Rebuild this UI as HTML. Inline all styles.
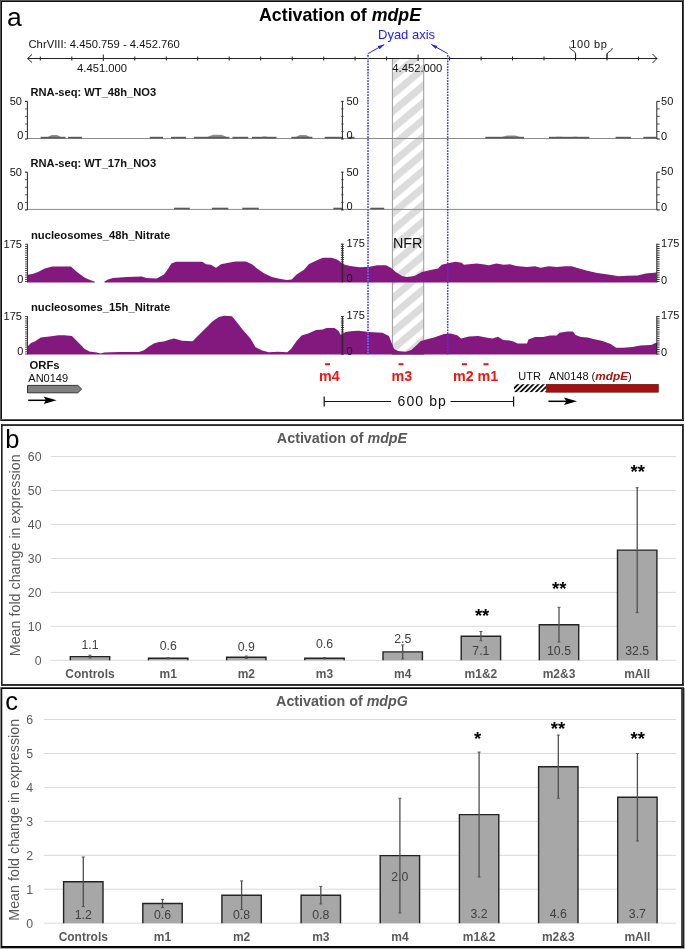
<!DOCTYPE html><html><head><meta charset="utf-8"><style>html,body{margin:0;padding:0;background:#fff;}svg{display:block;will-change:transform;}text{font-family:"Liberation Sans",sans-serif;}</style></head><body>
<svg width="685" height="949" viewBox="0 0 685 949">
<defs>
<pattern id="hatchG" patternUnits="userSpaceOnUse" width="13.0" height="13.0" patternTransform="rotate(50) translate(-3.8,0)"><rect width="13.0" height="13.0" fill="#fff"/><rect width="7.15" height="13.0" fill="#dcdcdc"/></pattern>
<pattern id="hatchK" patternUnits="userSpaceOnUse" width="3.6" height="3.6" patternTransform="rotate(45)"><rect width="3.6" height="3.6" fill="#fff"/><rect width="1.8" height="3.6" fill="#111"/></pattern>
<marker id="ah" markerWidth="7" markerHeight="6" refX="6.3" refY="3" orient="auto" markerUnits="userSpaceOnUse"><path d="M0,1.2 L6.5,3 L0,4.8 Z" fill="#2020ff"/></marker>
</defs>
<rect x="0" y="0" width="684" height="1" fill="#555"/>
<rect x="1" y="1" width="682" height="1" fill="#111"/>
<rect x="0" y="0" width="1" height="421" fill="#555"/>
<rect x="1" y="1" width="1" height="420" fill="#111"/>
<rect x="682" y="1" width="1" height="420" fill="#111"/>
<rect x="683" y="0" width="1" height="421" fill="#444"/>
<rect x="1" y="419" width="682" height="1" fill="#555"/>
<rect x="1" y="420" width="683" height="1" fill="#111"/>
<rect x="1" y="424" width="683" height="1" fill="#444"/>
<rect x="1" y="425" width="682" height="1" fill="#2a2a2a"/>
<rect x="1" y="424" width="1" height="262" fill="#222"/>
<rect x="2" y="426" width="1" height="258" fill="#777"/>
<rect x="682" y="424" width="1" height="262" fill="#222"/>
<rect x="683" y="424" width="1" height="262" fill="#444"/>
<rect x="1" y="684" width="683" height="1" fill="#2a2a2a"/>
<rect x="1" y="685" width="683" height="1" fill="#3a3a3a"/>
<rect x="0" y="687" width="684" height="1" fill="#555"/>
<rect x="1" y="688" width="683" height="1" fill="#000"/>
<rect x="0" y="687" width="1" height="262" fill="#888"/>
<rect x="1" y="688" width="1" height="260" fill="#111"/>
<rect x="2" y="689" width="1" height="257" fill="#bbb"/>
<rect x="681" y="689" width="1" height="257" fill="#4d4d4d"/>
<rect x="682" y="688" width="1" height="260" fill="#3a3a3a"/>
<rect x="683" y="688" width="1" height="260" fill="#222"/>
<rect x="684" y="688" width="1" height="261" fill="#a0a0a0"/>
<rect x="1" y="946" width="683" height="1" fill="#000"/>
<rect x="1" y="947" width="683" height="1" fill="#111"/>
<rect x="0" y="948" width="685" height="1" fill="#aaa"/>
<text x="6.9" y="26.4" font-size="26.5">a</text>
<text x="259" y="21" font-size="17.8" font-weight="bold">Activation of <tspan font-style="italic">mdpE</tspan></text>
<text x="28.5" y="47.8" font-size="11.25" fill="#111">ChrVIII: 4.450.759 - 4.452.760</text>
<rect x="392.4" y="58.5" width="31.3" height="296" fill="url(#hatchG)" stroke="#999" stroke-width="1"/>
<line x1="27.5" y1="58.5" x2="657" y2="58.5" stroke="#222" stroke-width="1"/>
<path d="M32,54.5 L27.6,58.5 L32,62.5" fill="none" stroke="#222" stroke-width="1"/>
<path d="M652.5,54 L657,58.5 L652.5,63" fill="none" stroke="#222" stroke-width="1"/>
<line x1="40.3" y1="56.5" x2="40.3" y2="60.5" stroke="#222" stroke-width="1"/>
<line x1="71.8" y1="56.5" x2="71.8" y2="60.5" stroke="#222" stroke-width="1"/>
<line x1="103.3" y1="54.5" x2="103.3" y2="61" stroke="#222" stroke-width="1"/>
<line x1="134.8" y1="56.5" x2="134.8" y2="60.5" stroke="#222" stroke-width="1"/>
<line x1="166.3" y1="56.5" x2="166.3" y2="60.5" stroke="#222" stroke-width="1"/>
<line x1="197.7" y1="56.5" x2="197.7" y2="60.5" stroke="#222" stroke-width="1"/>
<line x1="229.2" y1="56.5" x2="229.2" y2="60.5" stroke="#222" stroke-width="1"/>
<line x1="260.7" y1="56.5" x2="260.7" y2="60.5" stroke="#222" stroke-width="1"/>
<line x1="292.2" y1="56.5" x2="292.2" y2="60.5" stroke="#222" stroke-width="1"/>
<line x1="323.7" y1="56.5" x2="323.7" y2="60.5" stroke="#222" stroke-width="1"/>
<line x1="355.1" y1="56.5" x2="355.1" y2="60.5" stroke="#222" stroke-width="1"/>
<line x1="386.6" y1="56.5" x2="386.6" y2="60.5" stroke="#222" stroke-width="1"/>
<line x1="418.1" y1="54.5" x2="418.1" y2="61" stroke="#222" stroke-width="1"/>
<line x1="449.6" y1="56.5" x2="449.6" y2="60.5" stroke="#222" stroke-width="1"/>
<line x1="481.1" y1="56.5" x2="481.1" y2="60.5" stroke="#222" stroke-width="1"/>
<line x1="512.5" y1="56.5" x2="512.5" y2="60.5" stroke="#222" stroke-width="1"/>
<line x1="544.0" y1="56.5" x2="544.0" y2="60.5" stroke="#222" stroke-width="1"/>
<line x1="575.5" y1="53.5" x2="575.5" y2="60.5" stroke="#222" stroke-width="1"/>
<line x1="607.0" y1="53.5" x2="607.0" y2="60.5" stroke="#222" stroke-width="1"/>
<line x1="638.5" y1="56.5" x2="638.5" y2="60.5" stroke="#222" stroke-width="1"/>
<text x="77" y="72" font-size="11.25" fill="#111">4.451.000</text>
<text x="392.3" y="72.3" font-size="11.25" fill="#111">4.452.000</text>
<path d="M575.6,58 L575.6,54 Q575.6,51.5 572,50 Q569.5,49 569.5,46.5" fill="none" stroke="#222" stroke-width="0.9"/>
<path d="M607,58 L607,54.5 Q607,52.5 610.3,51 Q612.3,50 612.3,48" fill="none" stroke="#222" stroke-width="0.9"/>
<text x="570.3" y="48.2" font-size="11" letter-spacing="0.6" fill="#111">100 bp</text>
<text x="378" y="39.3" font-size="13" fill="#1a1aff">Dyad axis</text>
<line x1="367.7" y1="53.8" x2="384.2" y2="44.5" stroke="#2020ff" stroke-width="1" marker-end="url(#ah)"/>
<line x1="447.7" y1="53.6" x2="431.2" y2="44.4" stroke="#2020ff" stroke-width="1" marker-end="url(#ah)"/>
<text x="30.5" y="95.8" font-size="11.15" font-weight="bold" fill="#111">RNA-seq: WT_48h_NO3</text>
<line x1="27.4" y1="138.5" x2="657" y2="138.5" stroke="#8a8a8a" stroke-width="1"/>
<text x="30.5" y="167.2" font-size="11.15" font-weight="bold" fill="#111">RNA-seq: WT_17h_NO3</text>
<line x1="27.4" y1="209.4" x2="657" y2="209.4" stroke="#8a8a8a" stroke-width="1"/>
<text x="30.9" y="238.9" font-size="11.25" font-weight="bold" fill="#111">nucleosomes_48h_Nitrate</text>
<text x="30.9" y="311.1" font-size="11.25" font-weight="bold" fill="#111">nucleosomes_15h_Nitrate</text>
<path d="M27.7,282.5 L27.7,274.8 L32.4,274.1 L38.0,272.0 L44.8,268.4 L52.3,266.4 L70.9,266.4 L77.0,272.1 L84.5,277.6 L90.0,280.0 L94.4,281.6 L95.0,282.0 L95.0,282.5 Z" fill="#83187f"/>
<path d="M104.4,282.5 L104.4,281.6 L108.0,279.5 L113.0,277.9 L126.7,277.1 L141.6,276.4 L146.5,277.9 L156.5,278.4 L164.0,274.6 L168.0,269.0 L171.4,263.5 L176.3,261.7 L202.3,261.7 L206.0,264.2 L211.0,264.7 L216.0,267.7 L221.0,264.2 L228.4,262.7 L235.8,261.5 L245.8,261.5 L252.0,264.2 L257.0,268.4 L264.4,273.4 L271.8,277.1 L279.3,278.8 L286.7,280.1 L291.7,279.6 L296.6,274.6 L304.0,269.7 L309.0,264.0 L316.5,260.5 L322.7,257.8 L331.4,257.8 L337.6,259.7 L342.4,263.5 L345.0,264.7 L350.0,266.0 L359.9,267.2 L369.8,266.7 L377.2,265.2 L385.9,265.2 L390.9,267.7 L395.8,272.1 L402.0,275.9 L407.0,277.1 L414.4,275.9 L421.9,272.1 L431.8,269.7 L438.0,268.4 L441.7,264.7 L449.2,263.0 L455.4,261.7 L461.6,262.7 L464.0,264.7 L476.5,263.5 L482.7,264.2 L488.9,265.2 L496.3,263.5 L503.8,264.7 L510.0,264.2 L516.2,266.0 L527.0,266.9 L535.1,266.3 L540.5,267.7 L548.6,266.3 L556.7,266.9 L564.8,266.3 L571.6,266.3 L578.3,268.2 L586.4,270.4 L597.2,273.1 L608.0,274.4 L618.8,276.3 L626.9,275.8 L637.7,275.5 L645.8,273.6 L656.6,272.5 L656.6,282.5 Z" fill="#83187f"/>
<path d="M27.5,354.6 L27.5,346.6 L31.0,342.9 L34.7,341.4 L40.9,337.6 L49.6,336.4 L58.3,335.2 L64.5,335.2 L72.0,335.9 L74.4,338.4 L79.4,343.4 L84.4,348.8 L89.3,351.5 L96.8,352.5 L100.5,353.5 L104.2,352.5 L119.1,352.0 L139.0,352.0 L143.9,350.3 L148.9,346.6 L153.8,343.4 L158.8,342.1 L163.8,341.6 L170.0,339.6 L174.2,338.6 L182.1,340.7 L192.6,341.2 L197.8,336.0 L203.1,330.7 L208.4,325.5 L212.3,321.5 L218.9,317.1 L224.1,315.7 L232.0,316.3 L237.3,322.8 L242.5,329.4 L246.5,334.1 L250.4,338.6 L255.6,347.3 L262.2,350.4 L268.8,352.3 L278.0,351.7 L287.2,352.3 L291.1,349.1 L296.4,341.2 L301.6,335.5 L308.2,333.4 L316.1,329.9 L322.6,329.4 L326.6,328.1 L334.5,328.1 L338.4,330.7 L341.0,335.2 L342.4,334.0 L345.5,332.0 L350.8,331.3 L358.6,330.7 L369.2,332.0 L382.3,332.8 L388.9,336.0 L391.5,342.5 L394.1,349.1 L398.1,351.0 L405.9,351.7 L411.2,349.9 L416.5,345.2 L420.4,341.2 L424.3,339.9 L434.8,337.3 L444.0,334.1 L450.6,333.4 L457.2,335.2 L461.1,338.6 L469.0,336.5 L478.2,336.0 L487.4,337.8 L492.6,338.6 L497.9,336.8 L503.2,339.9 L509.5,340.4 L513.5,341.4 L517.6,343.6 L527.0,343.6 L528.4,339.6 L535.1,336.9 L543.2,336.9 L550.0,335.5 L556.7,335.5 L559.4,332.8 L567.5,331.5 L572.9,331.5 L575.6,335.0 L581.0,336.9 L587.8,337.4 L593.2,339.0 L602.6,340.9 L610.7,344.1 L616.1,347.7 L622.9,347.7 L632.3,346.9 L640.4,345.5 L651.2,345.0 L655.3,343.1 L657.0,343.1 L657.0,354.6 Z" fill="#83187f"/>
<path d="M46.0,138.0 L49.2,136.2 L51.6,135.0 L57.2,135.0 L59.6,136.2 L62.0,138.0 Z" fill="#8e8e8e"/>
<rect x="40.6" y="136.8" width="24.9" height="1.7" fill="#5a5a5a"/>
<rect x="68" y="136.8" width="14.1" height="1.7" fill="#5a5a5a"/>
<rect x="149.8" y="136.8" width="13.2" height="1.7" fill="#5a5a5a"/>
<rect x="171" y="136.8" width="15.0" height="1.7" fill="#5a5a5a"/>
<path d="M205.0,138.0 L209.6,136.0 L213.1,134.7 L221.1,134.7 L224.6,136.0 L228.0,138.0 Z" fill="#8e8e8e"/>
<rect x="194" y="136.8" width="35.3" height="1.7" fill="#5a5a5a"/>
<rect x="232.4" y="136.8" width="15.8" height="1.7" fill="#5a5a5a"/>
<path d="M260.0,138.0 L261.8,137.0 L263.1,136.4 L266.3,136.4 L267.6,137.0 L269.0,138.0 Z" fill="#8e8e8e"/>
<rect x="252" y="136.8" width="24.5" height="1.7" fill="#5a5a5a"/>
<path d="M294.0,138.0 L297.4,136.2 L299.9,135.0 L305.9,135.0 L308.4,136.2 L311.0,138.0 Z" fill="#8e8e8e"/>
<rect x="291.4" y="136.8" width="21.0" height="1.7" fill="#5a5a5a"/>
<rect x="324.7" y="136.8" width="18.3" height="1.7" fill="#5a5a5a"/>
<rect x="348.4" y="136.8" width="6.1" height="1.7" fill="#5a5a5a"/>
<path d="M499.0,138.0 L503.6,136.4 L507.1,135.4 L515.1,135.4 L518.5,136.4 L522.0,138.0 Z" fill="#8e8e8e"/>
<rect x="485.3" y="136.8" width="38.7" height="1.7" fill="#5a5a5a"/>
<path d="M551.8,138.0 L554.6,137.3 L556.7,136.8 L561.5,136.8 L563.6,137.3 L565.7,138.0 Z" fill="#8e8e8e"/>
<path d="M570.0,138.0 L571.9,137.3 L573.4,136.8 L576.7,136.8 L578.2,137.3 L579.6,138.0 Z" fill="#8e8e8e"/>
<rect x="549" y="136.8" width="40.3" height="1.7" fill="#5a5a5a"/>
<rect x="615.6" y="136.8" width="15.3" height="1.7" fill="#5a5a5a"/>
<rect x="643.4" y="136.8" width="13.0" height="1.7" fill="#5a5a5a"/>
<rect x="174" y="207.7" width="15.8" height="1.7" fill="#5a5a5a"/>
<rect x="211.9" y="207.7" width="16.4" height="1.7" fill="#5a5a5a"/>
<rect x="242.3" y="207.7" width="16.5" height="1.7" fill="#5a5a5a"/>
<rect x="333.4" y="207.7" width="8.8" height="1.7" fill="#5a5a5a"/>
<rect x="370.2" y="207.7" width="14.0" height="1.7" fill="#5a5a5a"/>
<line x1="27.4" y1="101.4" x2="27.4" y2="139.0" stroke="#222" stroke-width="1"/>

<line x1="25" y1="101.4" x2="27.4" y2="101.4" stroke="#333" stroke-width="1.2"/>
<line x1="25" y1="108.9" x2="27.4" y2="108.9" stroke="#333" stroke-width="0.8"/>
<line x1="25" y1="116.4" x2="27.4" y2="116.4" stroke="#333" stroke-width="0.8"/>
<line x1="25" y1="124.0" x2="27.4" y2="124.0" stroke="#333" stroke-width="0.8"/>
<line x1="25" y1="131.5" x2="27.4" y2="131.5" stroke="#333" stroke-width="0.8"/>
<line x1="25" y1="139.0" x2="27.4" y2="139.0" stroke="#333" stroke-width="1.2"/>
<line x1="342.4" y1="101.4" x2="342.4" y2="139.0" stroke="#222" stroke-width="1"/>
<line x1="656.8" y1="101.4" x2="656.8" y2="139.0" stroke="#222" stroke-width="1"/>
<line x1="341.2" y1="101.4" x2="343.6" y2="101.4" stroke="#333" stroke-width="1.2"/>
<line x1="656.8" y1="101.4" x2="659.8" y2="101.4" stroke="#333" stroke-width="1.2"/>
<line x1="341.2" y1="108.9" x2="343.6" y2="108.9" stroke="#333" stroke-width="0.8"/>
<line x1="656.8" y1="108.9" x2="659.8" y2="108.9" stroke="#333" stroke-width="0.8"/>
<line x1="341.2" y1="116.4" x2="343.6" y2="116.4" stroke="#333" stroke-width="0.8"/>
<line x1="656.8" y1="116.4" x2="659.8" y2="116.4" stroke="#333" stroke-width="0.8"/>
<line x1="341.2" y1="124.0" x2="343.6" y2="124.0" stroke="#333" stroke-width="0.8"/>
<line x1="656.8" y1="124.0" x2="659.8" y2="124.0" stroke="#333" stroke-width="0.8"/>
<line x1="341.2" y1="131.5" x2="343.6" y2="131.5" stroke="#333" stroke-width="0.8"/>
<line x1="656.8" y1="131.5" x2="659.8" y2="131.5" stroke="#333" stroke-width="0.8"/>
<line x1="341.2" y1="139.0" x2="343.6" y2="139.0" stroke="#333" stroke-width="1.2"/>
<line x1="656.8" y1="139.0" x2="659.8" y2="139.0" stroke="#333" stroke-width="1.2"/>
<text x="21.9" y="105.30000000000001" font-size="11" text-anchor="end" fill="#111">50</text>
<text x="23.4" y="139.3" font-size="11" text-anchor="end" fill="#111">0</text>
<text x="346.4" y="104.7" font-size="11" fill="#111">50</text>
<text x="346.4" y="138.9" font-size="11" fill="#111">0</text>
<text x="661.1" y="104.60000000000001" font-size="11" fill="#111">50</text>
<text x="661.1" y="140.0" font-size="11" fill="#111">0</text>
<line x1="27.4" y1="172.2" x2="27.4" y2="209.9" stroke="#222" stroke-width="1"/>

<line x1="25" y1="172.2" x2="27.4" y2="172.2" stroke="#333" stroke-width="1.2"/>
<line x1="25" y1="179.7" x2="27.4" y2="179.7" stroke="#333" stroke-width="0.8"/>
<line x1="25" y1="187.3" x2="27.4" y2="187.3" stroke="#333" stroke-width="0.8"/>
<line x1="25" y1="194.8" x2="27.4" y2="194.8" stroke="#333" stroke-width="0.8"/>
<line x1="25" y1="202.4" x2="27.4" y2="202.4" stroke="#333" stroke-width="0.8"/>
<line x1="25" y1="209.9" x2="27.4" y2="209.9" stroke="#333" stroke-width="1.2"/>
<line x1="342.4" y1="172.2" x2="342.4" y2="209.9" stroke="#222" stroke-width="1"/>
<line x1="656.8" y1="172.2" x2="656.8" y2="209.9" stroke="#222" stroke-width="1"/>
<line x1="341.2" y1="172.2" x2="343.6" y2="172.2" stroke="#333" stroke-width="1.2"/>
<line x1="656.8" y1="172.2" x2="659.8" y2="172.2" stroke="#333" stroke-width="1.2"/>
<line x1="341.2" y1="179.7" x2="343.6" y2="179.7" stroke="#333" stroke-width="0.8"/>
<line x1="656.8" y1="179.7" x2="659.8" y2="179.7" stroke="#333" stroke-width="0.8"/>
<line x1="341.2" y1="187.3" x2="343.6" y2="187.3" stroke="#333" stroke-width="0.8"/>
<line x1="656.8" y1="187.3" x2="659.8" y2="187.3" stroke="#333" stroke-width="0.8"/>
<line x1="341.2" y1="194.8" x2="343.6" y2="194.8" stroke="#333" stroke-width="0.8"/>
<line x1="656.8" y1="194.8" x2="659.8" y2="194.8" stroke="#333" stroke-width="0.8"/>
<line x1="341.2" y1="202.4" x2="343.6" y2="202.4" stroke="#333" stroke-width="0.8"/>
<line x1="656.8" y1="202.4" x2="659.8" y2="202.4" stroke="#333" stroke-width="0.8"/>
<line x1="341.2" y1="209.9" x2="343.6" y2="209.9" stroke="#333" stroke-width="1.2"/>
<line x1="656.8" y1="209.9" x2="659.8" y2="209.9" stroke="#333" stroke-width="1.2"/>
<text x="21.9" y="176.1" font-size="11" text-anchor="end" fill="#111">50</text>
<text x="23.4" y="210.20000000000002" font-size="11" text-anchor="end" fill="#111">0</text>
<text x="346.4" y="175.5" font-size="11" fill="#111">50</text>
<text x="346.4" y="209.8" font-size="11" fill="#111">0</text>
<text x="661.1" y="175.39999999999998" font-size="11" fill="#111">50</text>
<text x="661.1" y="210.9" font-size="11" fill="#111">0</text>
<line x1="27.4" y1="243.7" x2="27.4" y2="282.5" stroke="#222" stroke-width="1"/>
<line x1="26.1" y1="243.7" x2="26.1" y2="282.5" stroke="#555" stroke-width="2.1" stroke-dasharray="1 1.2"/>
<line x1="342.4" y1="243.7" x2="342.4" y2="282.5" stroke="#222" stroke-width="1"/>
<line x1="656.8" y1="243.7" x2="656.8" y2="282.5" stroke="#222" stroke-width="1"/>
<line x1="342.4" y1="243.7" x2="342.4" y2="282.5" stroke="#333" stroke-width="3" stroke-dasharray="1 1.2"/>
<line x1="658.3" y1="243.7" x2="658.3" y2="282.5" stroke="#333" stroke-width="2.6" stroke-dasharray="1 1.2"/>
<text x="21.9" y="247.6" font-size="11" text-anchor="end" fill="#111">175</text>
<text x="23.4" y="282.8" font-size="11" text-anchor="end" fill="#111">0</text>
<text x="346.4" y="247.0" font-size="11" fill="#111">175</text>
<text x="346.4" y="282.4" font-size="11" fill="#111">0</text>
<text x="661.1" y="246.89999999999998" font-size="11" fill="#111">175</text>
<text x="661.1" y="283.5" font-size="11" fill="#111">0</text>
<line x1="27.4" y1="316.0" x2="27.4" y2="354.6" stroke="#222" stroke-width="1"/>
<line x1="26.1" y1="316.0" x2="26.1" y2="354.6" stroke="#555" stroke-width="2.1" stroke-dasharray="1 1.2"/>
<line x1="342.4" y1="316.0" x2="342.4" y2="354.6" stroke="#222" stroke-width="1"/>
<line x1="656.8" y1="316.0" x2="656.8" y2="354.6" stroke="#222" stroke-width="1"/>
<line x1="342.4" y1="316.0" x2="342.4" y2="354.6" stroke="#333" stroke-width="3" stroke-dasharray="1 1.2"/>
<line x1="658.3" y1="316.0" x2="658.3" y2="354.6" stroke="#333" stroke-width="2.6" stroke-dasharray="1 1.2"/>
<text x="21.9" y="319.9" font-size="11" text-anchor="end" fill="#111">175</text>
<text x="23.4" y="354.90000000000003" font-size="11" text-anchor="end" fill="#111">0</text>
<text x="346.4" y="319.3" font-size="11" fill="#111">175</text>
<text x="346.4" y="354.5" font-size="11" fill="#111">0</text>
<text x="661.1" y="319.2" font-size="11" fill="#111">175</text>
<text x="661.1" y="355.6" font-size="11" fill="#111">0</text>
<text x="393" y="247.8" font-size="14.3" fill="#111">NFR</text>
<line x1="368" y1="55" x2="368" y2="355" stroke="#6262ff" stroke-width="2" stroke-dasharray="1.7 1.1"/>
<line x1="447.7" y1="55" x2="447.7" y2="355" stroke="#3a3aff" stroke-width="1.5" stroke-dasharray="1.7 1.1"/>
<text x="29.5" y="369.1" font-size="11.3" font-weight="bold" fill="#111">ORFs</text>
<text x="28.3" y="382.3" font-size="11" fill="#111">AN0149</text>
<path d="M27.5,385.4 L77.8,385.4 L81.6,389.1 L77.8,392.8 L27.5,392.8 Z" fill="#808080" stroke="#333" stroke-width="1"/>
<line x1="28.2" y1="400.3" x2="50.6" y2="400.3" stroke="#000" stroke-width="1.5"/>
<path d="M56.6,400.3 L43.6,396.5 L46.0,400.3 L43.6,404.1 Z" fill="#000"/>
<line x1="548.4" y1="401.3" x2="571" y2="401.3" stroke="#000" stroke-width="1.5"/>
<path d="M577,401.3 L564,397.5 L566.4,401.3 L564,405.1 Z" fill="#000"/>
<rect x="325" y="363.2" width="5" height="2" fill="#ff1010"/>
<text x="319.1" y="381.2" font-size="14.3" font-weight="bold" fill="#ff1010">m4</text>
<rect x="398.5" y="363.2" width="5" height="2" fill="#ff1010"/>
<text x="391.6" y="381.2" font-size="14.3" font-weight="bold" fill="#ff1010">m3</text>
<rect x="462" y="363.2" width="5" height="2" fill="#ff1010"/>
<text x="453" y="381.2" font-size="14.3" font-weight="bold" fill="#ff1010">m2</text>
<rect x="483.5" y="363.2" width="5" height="2" fill="#ff1010"/>
<text x="477.5" y="381.2" font-size="14.3" font-weight="bold" fill="#ff1010">m1</text>
<line x1="324.2" y1="401.5" x2="391" y2="401.5" stroke="#111" stroke-width="1"/>
<line x1="450.5" y1="401.5" x2="513.6" y2="401.5" stroke="#111" stroke-width="1"/>
<line x1="324.2" y1="396.5" x2="324.2" y2="406.5" stroke="#111" stroke-width="1.2"/>
<line x1="513.6" y1="396.5" x2="513.6" y2="406.5" stroke="#111" stroke-width="1.2"/>
<text x="397.5" y="405.8" font-size="14" letter-spacing="1.1" fill="#111">600 bp</text>
<text x="518.3" y="380" font-size="11" fill="#111">UTR</text>
<text x="548.8" y="380" font-size="11" fill="#111">AN0148 (<tspan font-weight="bold" font-style="italic" font-size="11.8" fill="#b01010">mdpE</tspan>)</text>
<rect x="514" y="384.2" width="32.4" height="7.9" fill="url(#hatchK)"/>
<rect x="546.4" y="384.3" width="112" height="7.9" fill="#a50f0f" stroke="#5a0a0a" stroke-width="0.6"/>
<text x="5.2" y="448" font-size="25.5">b</text>
<text x="342" y="443.1" font-size="14.3" font-weight="bold" fill="#595959" text-anchor="middle">Activation of <tspan font-style="italic">mdpE</tspan></text>
<line x1="50.8" y1="660.3" x2="676" y2="660.3" stroke="#d9d9d9" stroke-width="1"/>
<text x="41.5" y="664.6" font-size="12.3" fill="#595959" text-anchor="end">0</text>
<line x1="50.8" y1="626.3" x2="676" y2="626.3" stroke="#d9d9d9" stroke-width="1"/>
<text x="41.5" y="630.6" font-size="12.3" fill="#595959" text-anchor="end">10</text>
<line x1="50.8" y1="592.4" x2="676" y2="592.4" stroke="#d9d9d9" stroke-width="1"/>
<text x="41.5" y="596.7" font-size="12.3" fill="#595959" text-anchor="end">20</text>
<line x1="50.8" y1="558.4" x2="676" y2="558.4" stroke="#d9d9d9" stroke-width="1"/>
<text x="41.5" y="562.7" font-size="12.3" fill="#595959" text-anchor="end">30</text>
<line x1="50.8" y1="524.5" x2="676" y2="524.5" stroke="#d9d9d9" stroke-width="1"/>
<text x="41.5" y="528.8" font-size="12.3" fill="#595959" text-anchor="end">40</text>
<line x1="50.8" y1="490.5" x2="676" y2="490.5" stroke="#d9d9d9" stroke-width="1"/>
<text x="41.5" y="494.8" font-size="12.3" fill="#595959" text-anchor="end">50</text>
<line x1="50.8" y1="456.6" x2="676" y2="456.6" stroke="#d9d9d9" stroke-width="1"/>
<text x="41.5" y="460.9" font-size="12.3" fill="#595959" text-anchor="end">60</text>
<text transform="translate(19.5,555.3) rotate(-90)" font-size="14.3" fill="#595959" text-anchor="middle">Mean fold change in expression</text>
<rect x="70.3" y="656.6" width="39.4" height="3.7" fill="#a7a7a7"/>
<path d="M70.3,660.3 V656.6 H109.7 V660.3" fill="none" stroke="#222" stroke-width="1.4"/>
<line x1="90.0" y1="655.2" x2="90.0" y2="657.9" stroke="#4f4f4f" stroke-width="1.3"/>
<line x1="88.5" y1="655.2" x2="91.5" y2="655.2" stroke="#555" stroke-width="1"/>
<line x1="88.5" y1="657.9" x2="91.5" y2="657.9" stroke="#555" stroke-width="1"/>
<text x="90.0" y="678.2" font-size="12" font-weight="bold" fill="#595959" text-anchor="middle">Controls</text>
<rect x="148.5" y="658.3" width="39.4" height="2.0" fill="#a7a7a7"/>
<path d="M148.5,660.3 V658.3 H187.9 V660.3" fill="none" stroke="#222" stroke-width="1.4"/>
<line x1="168.2" y1="657.8" x2="168.2" y2="658.8" stroke="#4f4f4f" stroke-width="1.3"/>
<line x1="166.7" y1="657.8" x2="169.7" y2="657.8" stroke="#555" stroke-width="1"/>
<line x1="166.7" y1="658.8" x2="169.7" y2="658.8" stroke="#555" stroke-width="1"/>
<text x="168.2" y="678.2" font-size="12" font-weight="bold" fill="#595959" text-anchor="middle">m1</text>
<rect x="226.6" y="657.2" width="39.4" height="3.1" fill="#a7a7a7"/>
<path d="M226.6,660.3 V657.2 H266.0 V660.3" fill="none" stroke="#222" stroke-width="1.4"/>
<line x1="246.3" y1="656.1" x2="246.3" y2="658.4" stroke="#4f4f4f" stroke-width="1.3"/>
<line x1="244.8" y1="656.1" x2="247.8" y2="656.1" stroke="#555" stroke-width="1"/>
<line x1="244.8" y1="658.4" x2="247.8" y2="658.4" stroke="#555" stroke-width="1"/>
<text x="246.3" y="678.2" font-size="12" font-weight="bold" fill="#595959" text-anchor="middle">m2</text>
<rect x="304.8" y="658.3" width="39.4" height="2.0" fill="#a7a7a7"/>
<path d="M304.8,660.3 V658.3 H344.2 V660.3" fill="none" stroke="#222" stroke-width="1.4"/>
<line x1="324.5" y1="657.6" x2="324.5" y2="658.9" stroke="#4f4f4f" stroke-width="1.3"/>
<line x1="323.0" y1="657.6" x2="326.0" y2="657.6" stroke="#555" stroke-width="1"/>
<line x1="323.0" y1="658.9" x2="326.0" y2="658.9" stroke="#555" stroke-width="1"/>
<text x="324.5" y="678.2" font-size="12" font-weight="bold" fill="#595959" text-anchor="middle">m3</text>
<rect x="383.0" y="651.9" width="39.4" height="8.4" fill="#a7a7a7"/>
<path d="M383.0,660.3 V651.9 H422.4 V660.3" fill="none" stroke="#222" stroke-width="1.4"/>
<line x1="402.7" y1="644.9" x2="402.7" y2="658.9" stroke="#4f4f4f" stroke-width="1.3"/>
<line x1="401.2" y1="644.9" x2="404.2" y2="644.9" stroke="#555" stroke-width="1"/>
<line x1="401.2" y1="658.9" x2="404.2" y2="658.9" stroke="#555" stroke-width="1"/>
<text x="402.7" y="678.2" font-size="12" font-weight="bold" fill="#595959" text-anchor="middle">m4</text>
<rect x="461.2" y="636.2" width="39.4" height="24.1" fill="#a7a7a7"/>
<path d="M461.2,660.3 V636.2 H500.6 V660.3" fill="none" stroke="#222" stroke-width="1.4"/>
<line x1="480.9" y1="631.5" x2="480.9" y2="640.8" stroke="#4f4f4f" stroke-width="1.3"/>
<line x1="479.4" y1="631.5" x2="482.4" y2="631.5" stroke="#555" stroke-width="1"/>
<line x1="479.4" y1="640.8" x2="482.4" y2="640.8" stroke="#555" stroke-width="1"/>
<text x="480.9" y="678.2" font-size="12" font-weight="bold" fill="#595959" text-anchor="middle">m1&amp;2</text>
<rect x="539.3" y="624.7" width="39.4" height="35.6" fill="#a7a7a7"/>
<path d="M539.3,660.3 V624.7 H578.7 V660.3" fill="none" stroke="#222" stroke-width="1.4"/>
<line x1="559.0" y1="607.3" x2="559.0" y2="642.0" stroke="#4f4f4f" stroke-width="1.3"/>
<line x1="557.5" y1="607.3" x2="560.5" y2="607.3" stroke="#555" stroke-width="1"/>
<line x1="557.5" y1="642.0" x2="560.5" y2="642.0" stroke="#555" stroke-width="1"/>
<text x="559.0" y="678.2" font-size="12" font-weight="bold" fill="#595959" text-anchor="middle">m2&amp;3</text>
<rect x="617.5" y="550.1" width="39.4" height="110.2" fill="#a7a7a7"/>
<path d="M617.5,660.3 V550.1 H656.9 V660.3" fill="none" stroke="#222" stroke-width="1.4"/>
<line x1="637.2" y1="487.7" x2="637.2" y2="612.6" stroke="#4f4f4f" stroke-width="1.3"/>
<line x1="635.7" y1="487.7" x2="638.7" y2="487.7" stroke="#555" stroke-width="1"/>
<line x1="635.7" y1="612.6" x2="638.7" y2="612.6" stroke="#555" stroke-width="1"/>
<text x="637.2" y="678.2" font-size="12" font-weight="bold" fill="#595959" text-anchor="middle">mAll</text>
<text x="90.0" y="648.5" font-size="12.3" fill="#404040" text-anchor="middle">1.1</text>
<text x="168.2" y="649.6" font-size="12.3" fill="#404040" text-anchor="middle">0.6</text>
<text x="246.3" y="651.1" font-size="12.3" fill="#404040" text-anchor="middle">0.9</text>
<text x="324.5" y="647.6" font-size="12.3" fill="#404040" text-anchor="middle">0.6</text>
<text x="402.7" y="643" font-size="12.3" fill="#404040" text-anchor="middle">2.5</text>
<text x="480.9" y="655.2" font-size="12.3" fill="#404040" text-anchor="middle">7.1</text>
<text x="559.0" y="655.2" font-size="12.3" fill="#404040" text-anchor="middle">10.5</text>
<text x="637.2" y="655.2" font-size="12.3" fill="#404040" text-anchor="middle">32.5</text>
<text x="482.1" y="621.9" font-size="18.5" font-weight="bold" fill="#000" text-anchor="middle">**</text>
<text x="559.3" y="594.9" font-size="18.5" font-weight="bold" fill="#000" text-anchor="middle">**</text>
<text x="637.7" y="477.8" font-size="18.5" font-weight="bold" fill="#000" text-anchor="middle">**</text>
<text x="5.2" y="709.5" font-size="25.5">c</text>
<text x="342" y="706.1" font-size="14.3" font-weight="bold" fill="#595959" text-anchor="middle">Activation of <tspan font-style="italic">mdpG</tspan></text>
<line x1="43.8" y1="923.2" x2="676" y2="923.2" stroke="#d9d9d9" stroke-width="1"/>
<text x="33.2" y="927.5" font-size="12.3" fill="#595959" text-anchor="end">0</text>
<line x1="43.8" y1="889.2" x2="676" y2="889.2" stroke="#d9d9d9" stroke-width="1"/>
<text x="33.2" y="893.5" font-size="12.3" fill="#595959" text-anchor="end">1</text>
<line x1="43.8" y1="855.3" x2="676" y2="855.3" stroke="#d9d9d9" stroke-width="1"/>
<text x="33.2" y="859.6" font-size="12.3" fill="#595959" text-anchor="end">2</text>
<line x1="43.8" y1="821.4" x2="676" y2="821.4" stroke="#d9d9d9" stroke-width="1"/>
<text x="33.2" y="825.6" font-size="12.3" fill="#595959" text-anchor="end">3</text>
<line x1="43.8" y1="787.4" x2="676" y2="787.4" stroke="#d9d9d9" stroke-width="1"/>
<text x="33.2" y="791.7" font-size="12.3" fill="#595959" text-anchor="end">4</text>
<line x1="43.8" y1="753.5" x2="676" y2="753.5" stroke="#d9d9d9" stroke-width="1"/>
<text x="33.2" y="757.8" font-size="12.3" fill="#595959" text-anchor="end">5</text>
<line x1="43.8" y1="719.5" x2="676" y2="719.5" stroke="#d9d9d9" stroke-width="1"/>
<text x="33.2" y="723.8" font-size="12.3" fill="#595959" text-anchor="end">6</text>
<text transform="translate(19.2,819.8) rotate(-90)" font-size="14.3" fill="#595959" text-anchor="middle">Mean fold change in expression</text>
<rect x="63.6" y="881.8" width="39.4" height="41.4" fill="#a7a7a7"/>
<path d="M63.6,923.2 V881.8 H103.0 V923.2" fill="none" stroke="#222" stroke-width="1.4"/>
<line x1="83.3" y1="857.0" x2="83.3" y2="906.6" stroke="#4f4f4f" stroke-width="1.3"/>
<line x1="81.8" y1="857.0" x2="84.8" y2="857.0" stroke="#555" stroke-width="1"/>
<line x1="81.8" y1="906.6" x2="84.8" y2="906.6" stroke="#555" stroke-width="1"/>
<text x="83.3" y="941.2" font-size="12" font-weight="bold" fill="#595959" text-anchor="middle">Controls</text>
<rect x="142.8" y="903.5" width="39.4" height="19.7" fill="#a7a7a7"/>
<path d="M142.8,923.2 V903.5 H182.2 V923.2" fill="none" stroke="#222" stroke-width="1.4"/>
<line x1="162.5" y1="899.4" x2="162.5" y2="907.6" stroke="#4f4f4f" stroke-width="1.3"/>
<line x1="161.0" y1="899.4" x2="164.0" y2="899.4" stroke="#555" stroke-width="1"/>
<line x1="161.0" y1="907.6" x2="164.0" y2="907.6" stroke="#555" stroke-width="1"/>
<text x="162.5" y="941.2" font-size="12" font-weight="bold" fill="#595959" text-anchor="middle">m1</text>
<rect x="221.9" y="895.2" width="39.4" height="28.0" fill="#a7a7a7"/>
<path d="M221.9,923.2 V895.2 H261.3 V923.2" fill="none" stroke="#222" stroke-width="1.4"/>
<line x1="241.6" y1="880.9" x2="241.6" y2="909.5" stroke="#4f4f4f" stroke-width="1.3"/>
<line x1="240.1" y1="880.9" x2="243.1" y2="880.9" stroke="#555" stroke-width="1"/>
<line x1="240.1" y1="909.5" x2="243.1" y2="909.5" stroke="#555" stroke-width="1"/>
<text x="241.6" y="941.2" font-size="12" font-weight="bold" fill="#595959" text-anchor="middle">m2</text>
<rect x="301.1" y="895.2" width="39.4" height="28.0" fill="#a7a7a7"/>
<path d="M301.1,923.2 V895.2 H340.5 V923.2" fill="none" stroke="#222" stroke-width="1.4"/>
<line x1="320.8" y1="886.4" x2="320.8" y2="904.0" stroke="#4f4f4f" stroke-width="1.3"/>
<line x1="319.3" y1="886.4" x2="322.3" y2="886.4" stroke="#555" stroke-width="1"/>
<line x1="319.3" y1="904.0" x2="322.3" y2="904.0" stroke="#555" stroke-width="1"/>
<text x="320.8" y="941.2" font-size="12" font-weight="bold" fill="#595959" text-anchor="middle">m3</text>
<rect x="380.2" y="855.6" width="39.4" height="67.6" fill="#a7a7a7"/>
<path d="M380.2,923.2 V855.6 H419.6 V923.2" fill="none" stroke="#222" stroke-width="1.4"/>
<line x1="399.9" y1="798.3" x2="399.9" y2="913.0" stroke="#4f4f4f" stroke-width="1.3"/>
<line x1="398.4" y1="798.3" x2="401.4" y2="798.3" stroke="#555" stroke-width="1"/>
<line x1="398.4" y1="913.0" x2="401.4" y2="913.0" stroke="#555" stroke-width="1"/>
<text x="399.9" y="941.2" font-size="12" font-weight="bold" fill="#595959" text-anchor="middle">m4</text>
<rect x="459.4" y="814.6" width="39.4" height="108.6" fill="#a7a7a7"/>
<path d="M459.4,923.2 V814.6 H498.8 V923.2" fill="none" stroke="#222" stroke-width="1.4"/>
<line x1="479.1" y1="752.1" x2="479.1" y2="877.0" stroke="#4f4f4f" stroke-width="1.3"/>
<line x1="477.6" y1="752.1" x2="480.6" y2="752.1" stroke="#555" stroke-width="1"/>
<line x1="477.6" y1="877.0" x2="480.6" y2="877.0" stroke="#555" stroke-width="1"/>
<text x="479.1" y="941.2" font-size="12" font-weight="bold" fill="#595959" text-anchor="middle">m1&amp;2</text>
<rect x="538.6" y="766.7" width="39.4" height="156.5" fill="#a7a7a7"/>
<path d="M538.6,923.2 V766.7 H578.0 V923.2" fill="none" stroke="#222" stroke-width="1.4"/>
<line x1="558.3" y1="735.1" x2="558.3" y2="798.3" stroke="#4f4f4f" stroke-width="1.3"/>
<line x1="556.8" y1="735.1" x2="559.8" y2="735.1" stroke="#555" stroke-width="1"/>
<line x1="556.8" y1="798.3" x2="559.8" y2="798.3" stroke="#555" stroke-width="1"/>
<text x="558.3" y="941.2" font-size="12" font-weight="bold" fill="#595959" text-anchor="middle">m2&amp;3</text>
<rect x="617.7" y="797.2" width="39.4" height="126.0" fill="#a7a7a7"/>
<path d="M617.7,923.2 V797.2 H657.1 V923.2" fill="none" stroke="#222" stroke-width="1.4"/>
<line x1="637.4" y1="753.5" x2="637.4" y2="841.0" stroke="#4f4f4f" stroke-width="1.3"/>
<line x1="635.9" y1="753.5" x2="638.9" y2="753.5" stroke="#555" stroke-width="1"/>
<line x1="635.9" y1="841.0" x2="638.9" y2="841.0" stroke="#555" stroke-width="1"/>
<text x="637.4" y="941.2" font-size="12" font-weight="bold" fill="#595959" text-anchor="middle">mAll</text>
<text x="83.3" y="918.6" font-size="12.3" fill="#404040" text-anchor="middle">1.2</text>
<text x="162.5" y="918.6" font-size="12.3" fill="#404040" text-anchor="middle">0.6</text>
<text x="241.6" y="918.6" font-size="12.3" fill="#404040" text-anchor="middle">0.8</text>
<text x="320.8" y="918.6" font-size="12.3" fill="#404040" text-anchor="middle">0.8</text>
<text x="399.9" y="881.2" font-size="12.3" fill="#404040" text-anchor="middle">2.0</text>
<text x="479.1" y="917.8" font-size="12.3" fill="#404040" text-anchor="middle">3.2</text>
<text x="558.3" y="917.8" font-size="12.3" fill="#404040" text-anchor="middle">4.6</text>
<text x="637.4" y="917.8" font-size="12.3" fill="#404040" text-anchor="middle">3.7</text>
<text x="477.6" y="745.2" font-size="18.5" font-weight="bold" fill="#000" text-anchor="middle">*</text>
<text x="558.0" y="734.9" font-size="18.5" font-weight="bold" fill="#000" text-anchor="middle">**</text>
<text x="637.7" y="744.6" font-size="18.5" font-weight="bold" fill="#000" text-anchor="middle">**</text>
</svg></body></html>
